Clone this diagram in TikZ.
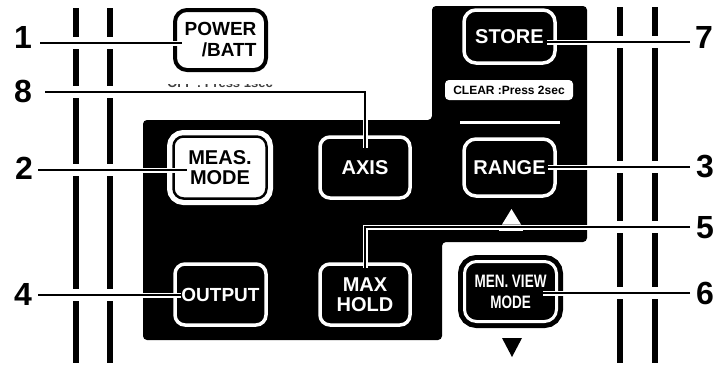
\documentclass[tikz,border=0pt]{standalone}
\usepackage{fontspec}
\setmainfont{Liberation Sans}
\begin{document}
\begin{tikzpicture}[x=1pt,y=-1pt,
  digit/.style={font=\bfseries\fontsize{32}{32}\selectfont, inner sep=0pt},
  darkbtn/.style={draw=white, fill=black, line width=3.5pt, rounded corners=10pt, text=white,
    font=\bfseries\fontsize{20}{20}\selectfont, align=center, inner sep=0pt},
  lightbtn/.style={draw=black, fill=white, line width=2.5pt, rounded corners=10pt, text=black,
    font=\bfseries\fontsize{20}{20}\selectfont, align=center, inner sep=0pt,
    preaction={draw=white, line width=13pt}},
  pwrbtn/.style={draw=black, fill=white, line width=4pt, rounded corners=12pt, text=black,
    font=\bfseries\fontsize{19}{21}\selectfont, align=right, inner sep=0pt},
  ringbtn/.style={draw=white, fill=black, line width=3pt, rounded corners=12pt, text=white,
    font=\bfseries\fontsize{18}{21}\selectfont, align=center, inner sep=0pt,
    preaction={draw=black, line width=13pt}},
  lead/.style={draw=black, line width=1.6pt, preaction={draw=white, line width=5pt}},
  rail/.style={line width=6pt}
]
\useasboundingbox (0,0) rectangle (725,367);
% panel
\fill[black, rounded corners=4pt] (143,120) -- (432,120) -- (432,6) -- (587,6) -- (587,242)
  -- (442,242) -- (442,340) -- (143,340) -- cycle;
% rails
\draw[rail] (76,8) -- (76,363);
\draw[rail] (110,8) -- (110,363);
\draw[rail] (620,7) -- (620,363);
\draw[rail] (655,7) -- (655,363);
\foreach \y in {43,92,170,295} {\fill[white] (70,\y-6) rectangle (116,\y+6);}
\foreach \y in {42,167,227,293} {\fill[white] (614,\y-6) rectangle (661,\y+6);}
% buttons
\node[pwrbtn, minimum width=91pt, minimum height=60pt] (pwr) at (220.5,40) {POWER\\/BATT};
\node[lightbtn, minimum width=93pt, minimum height=62pt] (meas) at (220,167.5) {MEAS.\\MODE};
\node[darkbtn, minimum width=90pt, minimum height=61pt] (axis) at (365,167.5) {AXIS};
\node[darkbtn, minimum width=91pt, minimum height=53pt, rounded corners=12pt] (store) at (509.5,36.5) {STORE};
\node[darkbtn, minimum width=91pt, minimum height=57pt, rounded corners=12pt] (range) at (509.5,167.5) {RANGE};
\node[darkbtn, minimum width=91pt, minimum height=61pt, font=\bfseries\fontsize{19}{20}\selectfont] (output) at (220.5,294.5) {OUTPUT};
\node[darkbtn, minimum width=90pt, minimum height=61pt] (maxhold) at (365,294.5) {MAX\\HOLD};
\node[ringbtn, minimum width=92pt, minimum height=60pt] (menview) at (510.5,291.5)
  {\scalebox{0.75}[1]{MEN. VIEW}\\\scalebox{0.75}[1]{MODE}};
% clear label and marks
\node[fill=white, rounded corners=4pt, minimum width=128pt, minimum height=20pt, inner sep=0pt,
  font=\bfseries\fontsize{12}{12}\selectfont] (clr) at (509,90) {CLEAR :Press 2sec};
\draw[white, line width=3pt] (460,122) -- (560,122);
\fill[black] (502,338) -- (522,338) -- (512,357) -- cycle;
% partially hidden text
\begin{scope}
\clip (150,84.5) rectangle (295,88);
\node[anchor=base, inner sep=0pt, text=black!75, font=\bfseries\fontsize{13}{13}\selectfont] (off) at (220,87.5) {OFF : Press 1sec};
\end{scope}
% digits
\node[digit] (n1) at (23,37.5) {1};
\node[digit] (n8) at (23,91.5) {8};
\node[digit] (n2) at (24,168) {2};
\node[digit] (n4) at (23,294) {4};
\node[digit] (n7) at (704,37) {7};
\node[digit] (n3) at (705,167) {3};
\node[digit] (n5) at (705,228) {5};
\node[digit] (n6) at (705,293) {6};
% leader start points
\coordinate (s1) at (40,43);
\coordinate (s8) at (45,92);
\coordinate (s2) at (38,170);
\coordinate (s4) at (38,295);
\coordinate (s7) at (690,42);
\coordinate (s3) at (690,167);
\coordinate (s5) at (690,227);
\coordinate (s6) at (690,293);
% leader end points
\coordinate (e1) at ([xshift=9pt]pwr.west);
\coordinate (e2) at ([xshift=15pt]meas.west);
\coordinate (e4) at ([xshift=8pt]output.west);
\coordinate (e7) at ([xshift=-10pt]store.east);
\coordinate (e3) at ([xshift=-9pt]range.east);
\coordinate (e6) at ([xshift=-15pt]menview.east);
\coordinate (e8) at ([yshift=-13pt]axis.north);
\coordinate (e5) at ([yshift=-6pt]maxhold.north);
% leaders
\draw[lead] (s1) -- (s1 -| e1);
\draw[lead] (s2) -- (s2 -| e2);
\draw[lead] (s4) -- (s4 -| e4);
\draw[lead] (s7) -- (s7 -| e7);
\draw[lead] (s3) -- (s3 -| e3);
\draw[lead] (s6) -- (s6 -| e6);
\draw[lead] (s8) -- (s8 -| e8) -- (e8);
\draw[lead] (s5) -- (s5 -| e5) -- (e5);
% up mark above leader 5
\fill[white] (502,224.5) -- (521,224.5) -- (511.5,209) -- cycle;
\draw[white, line width=2pt] (499,229.5) -- (523,229.5);
\end{tikzpicture}
\end{document}
